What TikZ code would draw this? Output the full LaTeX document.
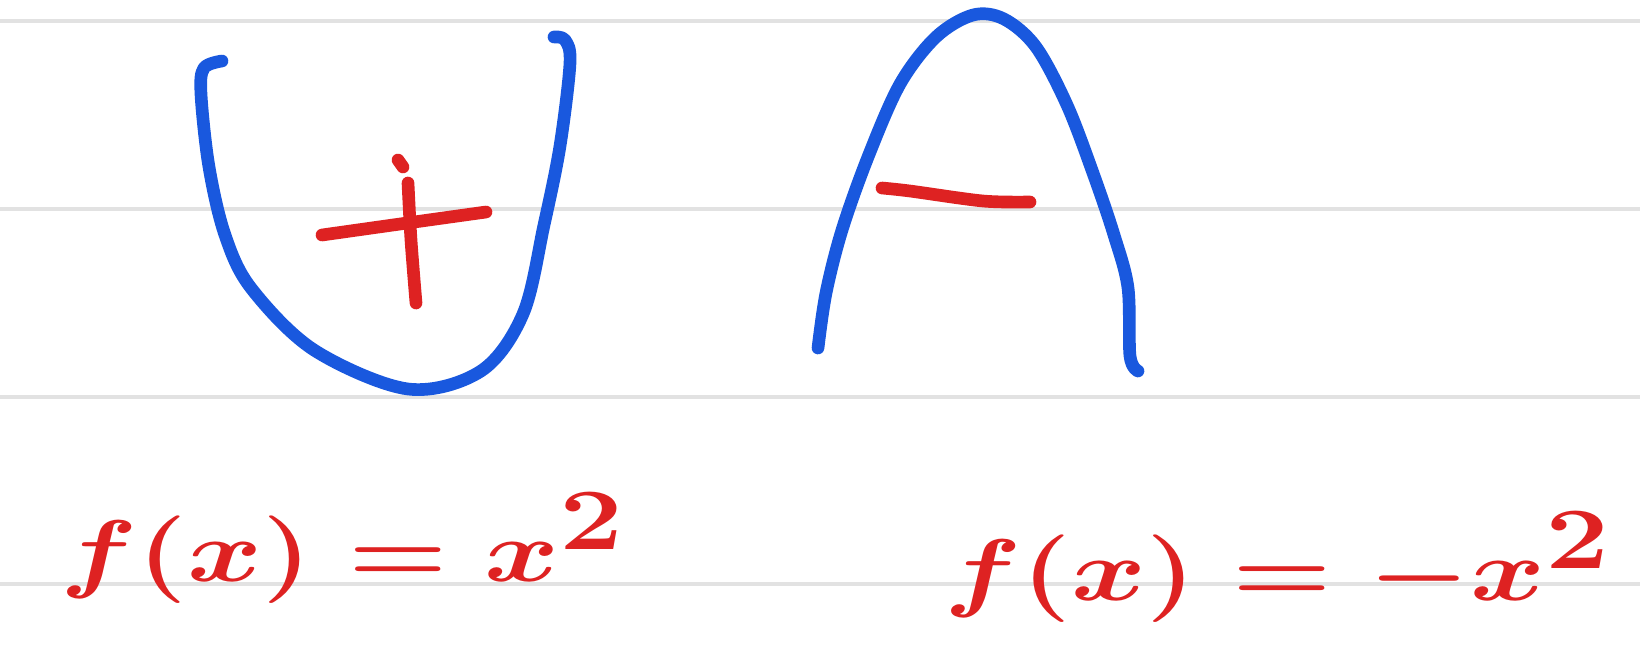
\documentclass[tikz,border=0pt]{standalone}
\usepackage{amsmath}
\definecolor{penblue}{RGB}{25,88,222}
\definecolor{penred}{RGB}{222,34,34}
\definecolor{ruleline}{RGB}{226,226,226}
\tikzset{
  bluestroke/.style={draw=penblue,line width=3.6pt,line cap=round,line join=round},
  redstroke/.style={draw=penred,line width=3.6pt,line cap=round,line join=round},
  rule/.style={draw=ruleline,line width=1.1pt},
  label/.style={text=penred,font=\fontsize{64}{72}\selectfont\boldmath,inner sep=0pt,anchor=base,xscale=1.3}
}
\begin{document}
\begin{tikzpicture}[x=0.01cm,y=-0.01cm]
\fill[white] (0,0) rectangle (1640,663);
\useasboundingbox (0,0) rectangle (1640,663);
% ruled lines
\foreach \yy in {21,209,397,584} \draw[rule] (0,\yy) -- (1640,\yy);
% U parabola
\draw[bluestroke] plot[smooth,tension=0.55] coordinates {(222,61) (204,68) (201,94) (209,167) (225,235) (251,288) (314,350) (408,389) (481,371) (523,314) (544,225) (560,146) (570,63) (565,40) (554,37)};
% plus sign
\draw[redstroke] plot[smooth] coordinates {(322,235) (400,224) (486,212)};
\draw[redstroke] (398,160) -- (403,167);
\draw[redstroke] plot[smooth] coordinates {(408,183) (411,240) (416,303)};
% inverted parabola
\draw[bluestroke] plot[smooth,tension=0.55] coordinates {(818,348) (826,293) (842,230) (868,157) (900,84) (936,37) (973,15) (1004,19) (1036,47) (1067,105) (1093,173) (1114,235) (1128,288) (1130,356) (1138,371)};
% minus sign
\draw[redstroke] plot[smooth] coordinates {(882,188) (910,191) (983,201) (1030,202)};
% labels
\node[label] (lbla) at (343,581) {$f(x)=x^{2}$};
\node[label] (lblb) at (1278,600) {$f(x)=-x^{2}$};
\end{tikzpicture}
\end{document}
